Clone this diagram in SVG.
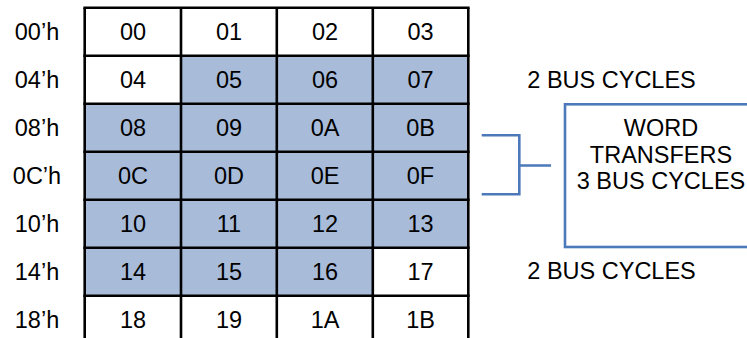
<svg xmlns="http://www.w3.org/2000/svg" width="747" height="338" viewBox="0 0 747 338">
<style>
text{font-family:"Liberation Sans",Arial,sans-serif;font-size:23.5px;fill:#000;}
.c{text-anchor:middle;}
.hl{fill:#A8BCDA;}
.grid line{stroke:#000;stroke-width:2.6;}
.blue{stroke:#4B79BA;stroke-width:2.6;fill:none;}
</style>
<rect width="747" height="338" fill="#fff"/>
<g id="cells-fill">
<rect class="hl" x="181" y="55.8" width="287.3" height="48"/>
<rect class="hl" x="84.7" y="103.8" width="383.6" height="144"/>
<rect class="hl" x="84.7" y="247.8" width="288.1" height="48"/>
</g>
<g id="grid" class="grid">
<line x1="84.7" y1="7.8" x2="84.7" y2="345"/>
<line x1="181" y1="7.8" x2="181" y2="345"/>
<line x1="276.8" y1="7.8" x2="276.8" y2="345"/>
<line x1="372.8" y1="7.8" x2="372.8" y2="345"/>
<line x1="468.3" y1="7.8" x2="468.3" y2="345"/>
<line x1="83.4" y1="7.8" x2="469.6" y2="7.8"/>
<line x1="83.4" y1="55.8" x2="469.6" y2="55.8"/>
<line x1="83.4" y1="103.8" x2="469.6" y2="103.8"/>
<line x1="83.4" y1="151.8" x2="469.6" y2="151.8"/>
<line x1="83.4" y1="199.8" x2="469.6" y2="199.8"/>
<line x1="83.4" y1="247.8" x2="469.6" y2="247.8"/>
<line x1="83.4" y1="295.8" x2="469.6" y2="295.8"/>
</g>
<g id="row-labels" class="c">
<text x="37" y="40">00’h</text>
<text x="37" y="88">04’h</text>
<text x="37" y="136">08’h</text>
<text x="37" y="184">0C’h</text>
<text x="37" y="232">10’h</text>
<text x="37" y="280">14’h</text>
<text x="37" y="328">18’h</text>
</g>
<g id="cell-text" class="c">
<text x="133" y="40">00</text><text x="229" y="40">01</text><text x="325" y="40">02</text><text x="420.5" y="40">03</text>
<text x="133" y="88">04</text><text x="229" y="88">05</text><text x="325" y="88">06</text><text x="420.5" y="88">07</text>
<text x="133" y="136">08</text><text x="229" y="136">09</text><text x="325" y="136">0A</text><text x="420.5" y="136">0B</text>
<text x="133" y="184">0C</text><text x="229" y="184">0D</text><text x="325" y="184">0E</text><text x="420.5" y="184">0F</text>
<text x="133" y="232">10</text><text x="229" y="232">11</text><text x="325" y="232">12</text><text x="420.5" y="232">13</text>
<text x="133" y="280">14</text><text x="229" y="280">15</text><text x="325" y="280">16</text><text x="420.5" y="280">17</text>
<text x="133" y="328">18</text><text x="229" y="328">19</text><text x="325" y="328">1A</text><text x="420.5" y="328">1B</text>
</g>
<g id="connectors">
<path class="blue" d="M481.7,135.2 H519.3 V194.3 H481.7 M519.3,165.5 H551"/>
</g>
<g id="word-box">
<rect class="blue" x="565" y="104.3" width="200" height="142.7"/>
<text class="c" x="661" y="136">WORD</text>
<text class="c" x="661" y="162.5">TRANSFERS</text>
<text class="c" x="661" y="188.5">3 BUS CYCLES</text>
</g>
<g id="label-top"><text x="527.3" y="88.3">2 BUS CYCLES</text></g>
<g id="label-bottom"><text x="527.3" y="279.3">2 BUS CYCLES</text></g>
</svg>
